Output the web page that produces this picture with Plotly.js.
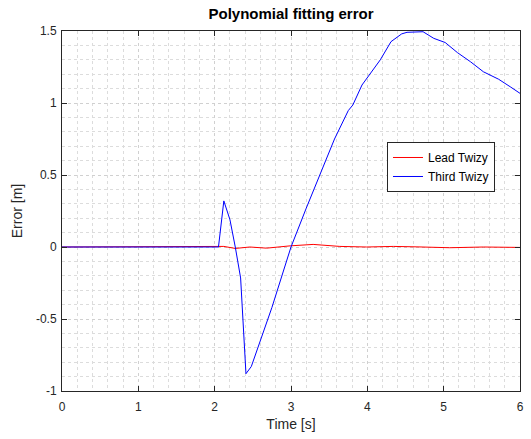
<!DOCTYPE html>
<html>
<head>
<meta charset="utf-8">
<script src="https://cdn.plot.ly/plotly-3.0.1.min.js"></script>
<style>html,body{margin:0;padding:0;background:#fff;}#chart{width:531px;height:439px;}</style>
</head>
<body>
<div id="chart"></div>
<script>
// Lead Twizy error (red)
const leadTime  = [0, 1, 2.0, 2.05, 2.12, 2.27, 2.46, 2.68, 2.99, 3.29, 3.64, 3.99, 4.34, 4.65, 5.08, 5.52, 5.96, 6.0];
const leadError = [0, 0, 0, 0, 0.004, -0.01, 0.0, -0.008, 0.008, 0.018, 0.004, 0.0, 0.004, 0.001, -0.005, 0.0, -0.004, -0.003];

// Third Twizy error (blue)
const thirdTime  = [0, 1, 2.0, 2.05, 2.12, 2.2, 2.27, 2.34, 2.41, 2.48, 2.75, 3.0, 3.2, 3.38, 3.57, 3.75, 3.81, 3.93, 4.17, 4.31, 4.45, 4.52, 4.66, 4.73, 4.87, 5.02, 5.18, 5.35, 5.52, 5.72, 5.88, 6.0];
const thirdError = [0, 0, 0, 0, 0.32, 0.19, 0.0, -0.215, -0.88, -0.83, -0.42, 0.0, 0.27, 0.5, 0.75, 0.947, 0.986, 1.125, 1.30, 1.426, 1.48, 1.491, 1.495, 1.495, 1.449, 1.42, 1.35, 1.287, 1.217, 1.165, 1.11, 1.067];

const yTickVals  = [-1, -0.5, 0, 0.5, 1, 1.5];
const yTickText  = ['-1', '-0.5', '0', '0.5', '1', '1.5'];
const xTickVals  = [0, 1, 2, 3, 4, 5, 6];

const seriesNames = ['Lead Twizy', 'Third Twizy'];

const font = 'Liberation Sans, Arial, Helvetica, sans-serif';

const traces = [
  {x: leadTime, y: leadError, name: seriesNames[0], mode: 'lines', line: {color: '#ff0000', width: 1}},
  {x: thirdTime, y: thirdError, name: seriesNames[1], mode: 'lines', line: {color: '#0000ff', width: 1}}
];

const axisCommon = {
  showline: true, linecolor: '#262626', linewidth: 1, mirror: 'ticks',
  ticks: 'inside', ticklen: 5, tickcolor: '#262626', tickwidth: 1,
  showgrid: true, gridcolor: '#d0d0d0', griddash: 'dot', gridwidth: 1,
  zeroline: false,
  tickfont: {family: font, size: 12, color: '#262626'}
};

const layout = {
  width: 531, height: 439,
  margin: {l: 62, r: 11, t: 31, b: 48},
  paper_bgcolor: '#ffffff', plot_bgcolor: '#ffffff',
  showlegend: true,
  title: {text: '<b>Polynomial fitting error</b>', x: 0.548, xanchor: 'center', y: 0.968, yanchor: 'middle',
          font: {family: font, size: 15, color: '#000000'}},
  xaxis: Object.assign({}, axisCommon, {
    range: [0, 6], tickvals: xTickVals, ticktext: xTickVals.map(String),
    ticklabelstandoff: 5,
    minor: {dtick: 0.2, tick0: 0, showgrid: true, gridcolor: '#dcdcdc', griddash: 'dot', gridwidth: 1, ticks: ''},
    title: {text: 'Time [s]', font: {family: font, size: 14, color: '#262626'}, standoff: 5}
  }),
  yaxis: Object.assign({}, axisCommon, {
    range: [-1, 1.5], tickvals: yTickVals, ticktext: yTickText,
    ticklabelstandoff: 2,
    minor: {dtick: 0.1, tick0: 0, showgrid: true, gridcolor: '#dcdcdc', griddash: 'dot', gridwidth: 1, ticks: ''},
    title: {text: 'Error [m]', font: {family: font, size: 14, color: '#262626'}, standoff: 10}
  }),
  legend: {
    x: 0.7096, y: 0.6917, xanchor: 'left', yanchor: 'top',
    bgcolor: '#ffffff', bordercolor: '#262626', borderwidth: 1,
    font: {family: font, size: 12, color: '#000000'},
    tracegroupgap: 0, itemwidth: 30, entrywidth: 80
  }
};

Plotly.newPlot('chart', traces, layout, {displayModeBar: false, staticPlot: true});
</script>
</body>
</html>
